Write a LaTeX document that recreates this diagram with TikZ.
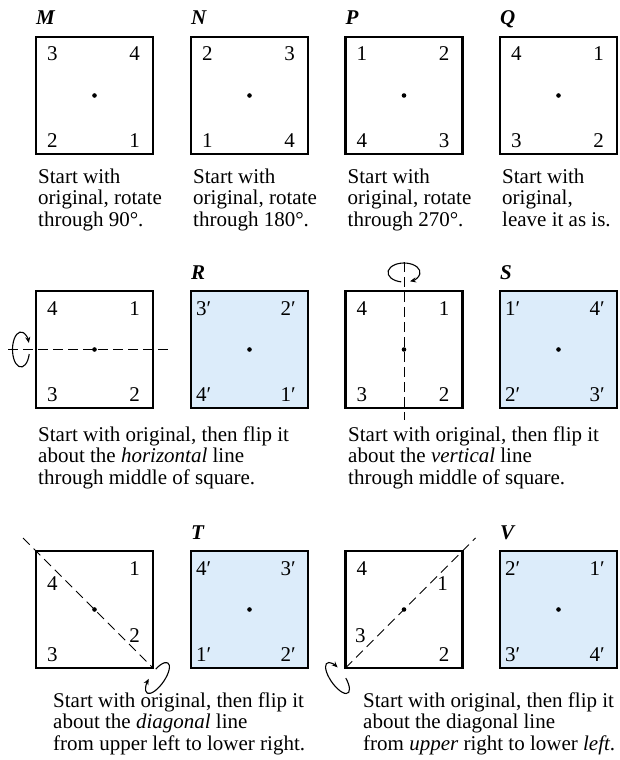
\documentclass[tikz,border=0pt]{standalone}
\usepackage{fontspec}
\setmainfont{Liberation Serif}
\usetikzlibrary{arrows.meta,calc}
\definecolor{flipblue}{RGB}{220,236,250}
\tikzset{
 sq/.style={draw, line width=2.2pt, minimum size=117pt, inner sep=0pt, outer sep=0pt},
 flipsq/.style={sq, fill=flipblue},
 ctrdot/.style={circle, fill, inner sep=0pt, minimum size=4.6pt},
 cornernum/.style={inner sep=0pt, font=\fontsize{21}{21}\selectfont},
 lettertag/.style={inner sep=0pt, anchor=base west, font=\fontsize{21}{21}\selectfont\bfseries\itshape},
 captext/.style={inner sep=0pt, anchor=north west, align=left, font=\fontsize{21}{21.5}\selectfont},
 axisline/.style={dash pattern=on 9.5pt off 5.5pt, line width=1pt},
 spinarrow/.style={line width=1.1pt, -{Stealth[length=6pt,width=5pt]}},
}
\newcommand\plaincorners[5]{%
 \node[cornernum,anchor=base west] (#1a) at ($(#1.north west)+(11,24)$) {#2};
 \node[cornernum,anchor=base east] (#1b) at ($(#1.north east)+(-13,24)$) {#3};
 \node[cornernum,anchor=base west] (#1c) at ($(#1.south west)+(11,-7)$) {#4};
 \node[cornernum,anchor=base east] (#1d) at ($(#1.south east)+(-13,-7)$) {#5};}
\newcommand\primecorners[5]{%
 \node[cornernum,anchor=base west] (#1a) at ($(#1.north west)+(5,24)$) {#2′};
 \node[cornernum,anchor=base east] (#1b) at ($(#1.north east)+(-12,24)$) {#3′};
 \node[cornernum,anchor=base west] (#1c) at ($(#1.south west)+(5,-7)$) {#4′};
 \node[cornernum,anchor=base east] (#1d) at ($(#1.south east)+(-12,-7)$) {#5′};}
\begin{document}
\begin{tikzpicture}[x=1pt,y=-1pt]
\useasboundingbox (0,0) rectangle (620,760);
% ---------- row 1 ----------
\node[sq] (M) at (94.5,95.5) {};
\node[sq] (N) at (249.5,95.5) {};
\node[sq] (P) at (404,95.5) {};
\node[sq] (Q) at (558.5,95.5) {};
\foreach \s in {M,N,P,Q} {\node[ctrdot] (\s-c) at (\s.center) {};}
\node[lettertag] (lM) at ($(M.north west)+(0,-12)$) {M};
\node[lettertag] (lN) at ($(N.north west)+(0,-12)$) {N};
\node[lettertag] (lP) at ($(P.north west)+(0,-12)$) {P};
\node[lettertag] (lQ) at ($(Q.north west)+(0,-12)$) {Q};
\plaincorners{M}{3}{4}{2}{1}
\plaincorners{N}{2}{3}{1}{4}
\plaincorners{P}{1}{2}{4}{3}
\plaincorners{Q}{4}{1}{3}{2}
\node[captext] (capM) at (38,168.5) {Start with\\original, rotate\\through 90°.};
\node[captext] (capN) at (193,168.5) {Start with\\original, rotate\\through 180°.};
\node[captext] (capP) at (347.5,168.5) {Start with\\original, rotate\\through 270°.};
\node[captext] (capQ) at (502,168.5) {Start with\\original,\\leave it as is.};
% ---------- row 2 ----------
\node[sq] (H) at (94.5,349.5) {};
\node[flipsq] (R) at (249.5,349.5) {};
\node[sq] (W) at (404,349.5) {};
\node[flipsq] (S) at (558.5,349.5) {};
\node[lettertag] (lR) at ($(R.north west)+(0,-12)$) {R};
\node[lettertag] (lS) at ($(S.north west)+(0,-12)$) {S};
\plaincorners{H}{4}{1}{3}{2}
\primecorners{R}{3}{2}{4}{1}
\plaincorners{W}{4}{1}{3}{2}
\primecorners{S}{1}{4}{2}{3}
\coordinate (hL) at (8,349.5);
\coordinate (hR) at (169,349.5);
\draw[axisline] (hL) -- (hR);
\coordinate (vT) at (404,262);
\coordinate (vB) at (404,420);
\draw[axisline] (vT) -- (vB);
\foreach \s in {H,R,W,S} {\node[ctrdot] (\s-c) at (\s.center) {};}
\coordinate (eH) at (21,349.5);
\begin{scope}[shift={(eH)}]
\draw[spinarrow] (15:8.5 and 17.5) arc[start angle=15, end angle=338, x radius=8.5, y radius=17.5];
\end{scope}
\coordinate (eV) at (404,272.5);
\begin{scope}[shift={(eV)}]
\draw[spinarrow] (100:16 and 9.5) arc[start angle=100, end angle=428, x radius=16, y radius=9.5];
\end{scope}
\node[captext] (capH) at (38,426.5) {Start with original, then flip it\\about the \textit{horizontal} line\\through middle of square.};
\node[captext] (capW) at (348,426.5) {Start with original, then flip it\\about the \textit{vertical} line\\through middle of square.};
% ---------- row 3 ----------
\node[sq] (D) at (94.5,609.5) {};
\node[flipsq] (T) at (249.5,609.5) {};
\node[sq] (E) at (404,609.5) {};
\node[flipsq] (V) at (558.5,609.5) {};
\node[lettertag] (lT) at ($(T.north west)+(0,-12)$) {T};
\node[lettertag] (lV) at ($(V.north west)+(0,-12)$) {V};
\coordinate (dA) at (23,538);
\draw[axisline] (dA) -- (D.south east);
\coordinate (dB) at (475.5,538);
\draw[axisline] (E.south west) -- (dB);
\foreach \s in {D,T,E,V} {\node[ctrdot] (\s-c) at (\s.center) {};}
\node[cornernum,anchor=base east] (Db) at ($(D.north east)+(-13,24)$) {1};
\node[cornernum,anchor=base west] (Da) at ($(D.north west)+(11,39)$) {4};
\node[cornernum,anchor=base east] (Dd) at ($(D.north east)+(-13,91)$) {2};
\node[cornernum,anchor=base west] (Dc) at ($(D.south west)+(11,-7)$) {3};
\primecorners{T}{4}{3}{1}{2}
\node[cornernum,anchor=base west] (Ea) at ($(E.north west)+(11,24)$) {4};
\node[cornernum,anchor=base east] (Eb) at ($(E.north east)+(-14.5,39)$) {1};
\node[cornernum,anchor=base west] (Ec) at ($(E.north west)+(9.5,91)$) {3};
\node[cornernum,anchor=base east] (Ed) at ($(E.south east)+(-13,-7)$) {2};
\primecorners{V}{2}{1}{3}{4}
\coordinate (eD) at (157.5,678);
\begin{scope}[shift={(eD)}, rotate=55]
\draw[spinarrow] (290:18.3 and 7) arc[start angle=290, end angle=612, x radius=18.3, y radius=7];
\end{scope}
\coordinate (eE) at (337.5,678);
\begin{scope}[shift={(eE)}, rotate=-55]
\draw[spinarrow] (285:18.3 and 7) arc[start angle=285, end angle=602, x radius=18.3, y radius=7];
\end{scope}
\node[captext] (capD) at (53,692.5) {Start with original, then flip it\\about the \textit{diagonal} line\\from upper left to lower right.};
\node[captext] (capE) at (363,692.5) {Start with original, then flip it\\about the diagonal line\\from \textit{upper} right to lower \textit{left}.};
\end{tikzpicture}
\end{document}
